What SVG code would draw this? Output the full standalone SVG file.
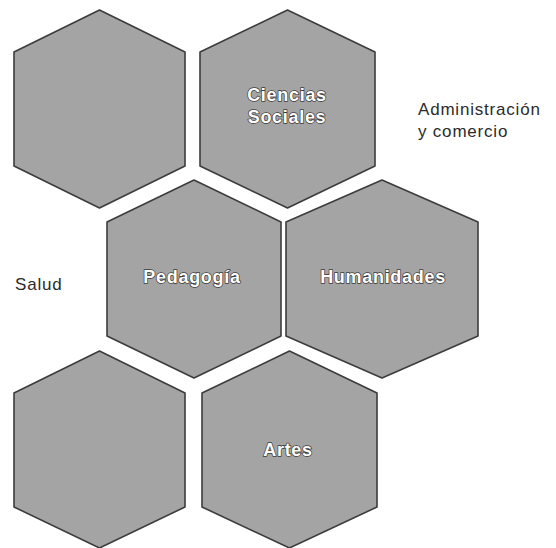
<svg xmlns="http://www.w3.org/2000/svg" width="556" height="548" viewBox="0 0 556 548">
<style>
.hex{fill:#a4a4a4;stroke:#3c3c3c;stroke-width:1.6;stroke-linejoin:round}
.lbl{font-family:"Liberation Sans",Arial,sans-serif;font-size:18px;font-weight:bold;fill:#ffffff;stroke:#3a3a3a;stroke-width:1.4;paint-order:stroke;text-anchor:middle;letter-spacing:0.7px}
.out{font-family:"Liberation Sans",Arial,sans-serif;font-size:17px;fill:#2b2b2b;letter-spacing:0.8px}
</style>
<rect width="556" height="548" fill="#ffffff"/>
<g id="hex1">
<polygon class="hex" points="99.5,10 185,52 185,166 99.5,208 14,166 14,52"/>
</g>
<g id="hex2">
<polygon class="hex" points="287.5,10 375,52 375,166 287.5,208 200,166 200,52"/>
<text class="lbl" x="287" y="101">Ciencias</text>
<text class="lbl" x="287" y="123">Sociales</text>
</g>
<g id="hex3">
<polygon class="hex" points="194,180 281,222 281,336 194,378 107,336 107,222"/>
<text class="lbl" x="192" y="283">Pedagogía</text>
</g>
<g id="hex4">
<polygon class="hex" points="382,180 478,222 478,336 382,378 286,336 286,222"/>
<text class="lbl" x="383" y="283">Humanidades</text>
</g>
<g id="hex5">
<polygon class="hex" points="99.5,351 185,393 185,507 99.5,548 14,507 14,393"/>
</g>
<g id="hex6">
<polygon class="hex" points="289.5,351 377,393 377,507 289.5,548 202,507 202,393"/>
<text class="lbl" x="288" y="456">Artes</text>
</g>
<g id="labels">
<text class="out" x="418" y="115">Administración</text>
<text class="out" x="418" y="137">y comercio</text>
<text class="out" x="15" y="290">Salud</text>
</g>
<g id="connectors"></g>
</svg>
